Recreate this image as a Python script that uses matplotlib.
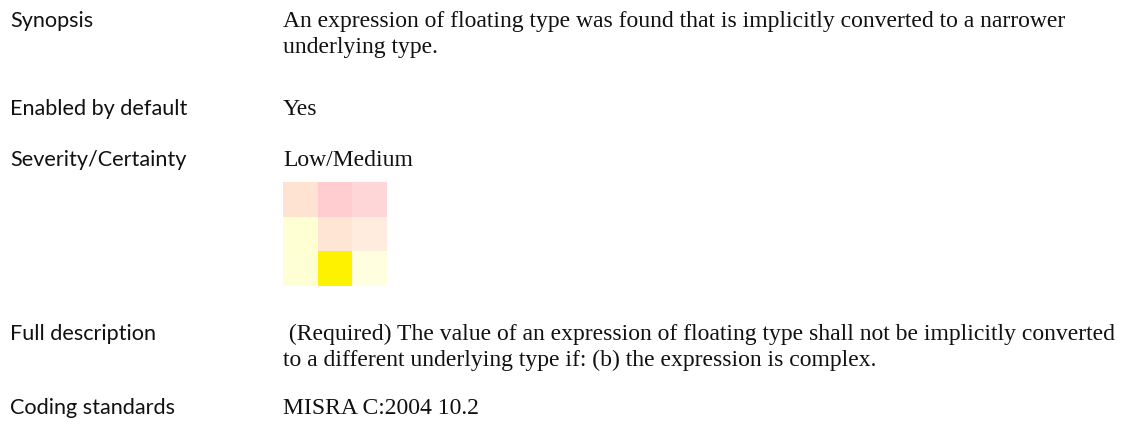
import matplotlib.pyplot as plt
import numpy as np
from matplotlib.colors import to_rgb

# rows of the field table: label, value lines
labels = ["Synopsis", "Enabled by default", "Severity/Certainty",
          "Full description", "Coding standards"]
values = [
    ["An expression of floating type was found that is implicitly converted to a narrower",
     "underlying type."],
    ["Yes"],
    ["Low/Medium"],
    [" (Required) The value of an expression of floating type shall not be implicitly converted",
     "to a different underlying type if: (b) the expression is complex."],
    ["MISRA C:2004 10.2"],
]
# baseline (px from top) of first line of each row
baselines = [27, 115, 166, 340, 414]

# severity/certainty matrix colours (rows top to bottom)
grid_row0 = ["#FFE3D2", "#FFCDD0", "#FFD6D8"]
grid_row1 = ["#FFFFD4", "#FFE5D4", "#FFECDE"]
grid_row2 = ["#FFFFD6", "#FFF200", "#FFFFDF"]

W, H = 1123, 431
fig = plt.figure(figsize=(W / 100, H / 100), dpi=100)
ax = fig.add_axes([0, 0, 1, 1])
ax.set_xlim(0, W)
ax.set_ylim(H, 0)
ax.axis("off")

label_x = 10
value_x = 283
line_step = 26

for label, lines, base in zip(labels, values, baselines):
    ax.text(label_x, base, label, family="Lato", fontsize=15.6, va="baseline",
            ha="left", color="#111111")
    for i, line in enumerate(lines):
        ax.text(value_x, base + i * line_step, line, family="Liberation Serif",
                fontsize=17, va="baseline", ha="left", color="#111111")

# the 3x3 matrix below Low/Medium
rgb = np.array([[to_rgb(c) for c in row] for row in [grid_row0, grid_row1, grid_row2]])
ax.imshow(rgb, extent=(283, 387, 287, 183), interpolation="nearest", aspect="auto")
ax.set_xlim(0, W)
ax.set_ylim(H, 0)

fig.savefig("out.png", dpi=100)
